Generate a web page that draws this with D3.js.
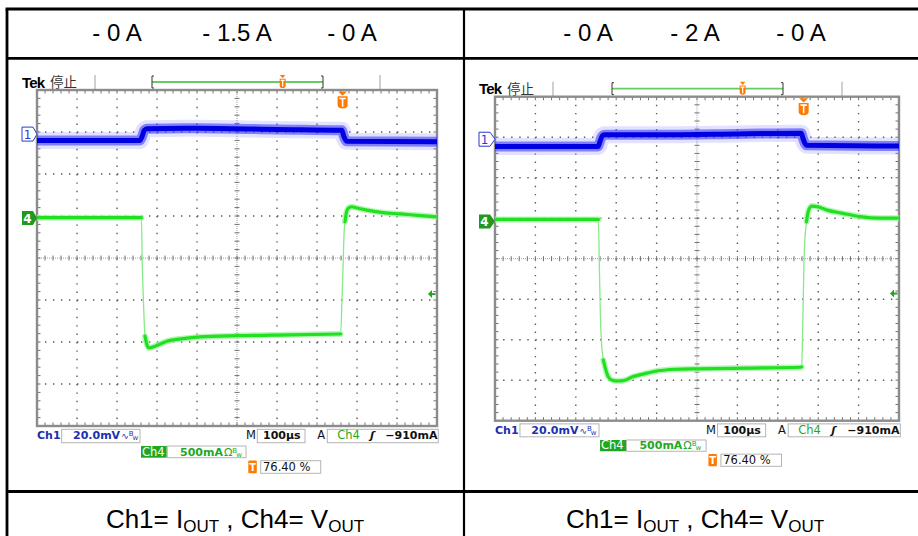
<!DOCTYPE html>
<html><head><meta charset="utf-8">
<script src="https://cdn.jsdelivr.net/npm/d3@7"></script>
<style>html,body{margin:0;padding:0;background:#fff;}svg{display:block}</style>
</head><body>
<svg id="c" width="918" height="536"></svg>
<script>
// ================= DATA =================
const headerLeft  = ["- 0 A", "- 1.5 A", "- 0 A"];
const headerRight = ["- 0 A", "- 2 A", "- 0 A"];
const footerParts = ["Ch1= I", "OUT", " , Ch4= V", "OUT"];
const timeDomain = [0, 1000];          // µs (100 µs/div, 10 div)
const divDomain  = [-4, 4];            // vertical divisions
const timeTicks  = d3.range(0, 1001, 100);
const divTicks   = d3.range(-4, 5, 1);

// Ch1 trace (divisions) — left capture (0 → 1.5 A → 0)
const ch1Left = [[0,2.80],[257,2.80],[263,2.90],[268,3.04],[275,3.08],[400,3.09],[600,3.06],[762,3.04],[767,2.90],[774,2.78],[1000,2.77]];
// Ch4 trace (divisions) — left capture
const ch4Left = [[0,0.96],[261,0.96],[263,-0.05],[266,-1.0],[270,-1.86],[275,-2.07],[280,-2.14],[295,-2.10],[325,-1.98],[365,-1.92],[408,-1.88],[503,-1.85],[633,-1.83],[759,-1.81],
  [762.5,-1.0],[766,0.07],[767.5,0.55],[770,0.86],[774,1.10],[780,1.20],[787.5,1.22],[800,1.19],[825,1.14],[865,1.08],[908,1.05],[958,1.01],[1000,0.98]];
// Ch1 trace — right capture (0 → 2 A → 0)
const ch1Right = [[0,2.77],[255,2.77],[260,2.90],[266,3.04],[272,3.06],[400,3.06],[600,3.08],[758,3.10],[763,2.95],[771,2.80],[1000,2.78]];
// Ch4 trace — right capture
const ch4Right = [[0,0.97],[256,0.97],[258,-0.03],[262,-1.76],[268,-2.50],[280,-2.91],[290,-3.0],[304,-3.02],[322,-3.0],[342,-2.91],[366,-2.85],[391,-2.79],[450,-2.73],[502,-2.72],[631,-2.70],[757,-2.68],
  [759,-2.67],[762,-1.51],[765,-0.03],[767,0.46],[771,0.91],[775,1.15],[784,1.30],[800,1.28],[822,1.20],[861,1.12],[903,1.04],[953,1.00],[1000,1.00]];

const ch1MarkerDiv = [2.95, 2.95];
const ch4MarkerDiv = [0.95, 0.92];
const trigLevelDiv = [-0.86, -0.86];
const trigTime = 764;                  // µs (76.40 %)
const trigPosText = "76.40 %";
const ch1ScaleText = "20.0mV";
const ch4ScaleText = "500mA";
const timeBaseText = "100µs";
const trigSourceText = "Ch4";
const trigLevelText = "−910mA";

// ================= DRAW =================
const svg = d3.select("#c");
svg.append("rect").attr("width",918).attr("height",536).attr("fill","#fff");

const BLUE = "#1c2fb0", GREEN = "#1fa81f", ORANGE = "#ff7a00";

function drawScope(cfg, ch1, ch4, idx, header) {
  const {L,R,T,B} = cfg;
  const g = svg.append("g");
  const x = d3.scaleLinear().domain(timeDomain).range([L,R]);
  const y = d3.scaleLinear().domain(divDomain).range([B,T]);
  const dx = (R-L)/10, dy = (B-T)/8;
  const kx = (R-L)/400, ky = (B-T)/336;

  // --- top status bar ---
  const top = g.append("g");
  top.append("text").attr("x",cfg.tekX).attr("y",T-2.5).attr("font-family","Liberation Sans, Arial").attr("font-weight","bold").attr("font-size",15).attr("letter-spacing",-0.8).text("Tek");
  top.append("text").attr("x",cfg.tekX+28).attr("y",T-3).attr("font-family","Noto Sans CJK SC").attr("font-size",13.5).attr("fill","#333").text("停止");
  [cfg.barL, cfg.barR].forEach(bx => top.append("line").attr("x1",bx).attr("x2",bx).attr("y1",T-15).attr("y2",T).attr("stroke","#b0b0b0").attr("stroke-width",1.2));
  // record bracket
  const by = T-8;
  top.append("line").attr("x1",cfg.brL).attr("x2",cfg.brR).attr("y1",by).attr("y2",by).attr("stroke","#66cc66").attr("stroke-width",1.8);
  [[cfg.brL,1],[cfg.brR,-1]].forEach(([bx,s]) => {
    top.append("path").attr("d",`M${bx+2*s},${T-14}H${bx}V${T-2}H${bx+2*s}`).attr("fill","none").attr("stroke","#333").attr("stroke-width",1);
  });
  const bxT = cfg.brL + (cfg.brR-cfg.brL)*(trigTime/1000);
  tIcon(top, bxT, T-15, 6, 13);

  // --- graticule ---
  const grid = g.append("g");
  timeTicks.forEach(t => {
    if (t===0 || t===1000 || t===500) return;
    grid.append("line").attr("x1",x(t)).attr("x2",x(t)).attr("y1",T).attr("y2",B)
      .attr("stroke","#5a5a5a").attr("stroke-width",1.4).attr("stroke-dasharray",`1.4 ${dy/5-1.4}`);
  });
  divTicks.forEach(v => {
    if (v===-4 || v===4 || v===0) return;
    grid.append("line").attr("x1",L).attr("x2",R).attr("y1",y(v)).attr("y2",y(v))
      .attr("stroke","#5a5a5a").attr("stroke-width",1.4).attr("stroke-dasharray",`1.4 ${dx/5-1.4}`);
  });
  // center lines
  grid.append("line").attr("x1",x(500)).attr("x2",x(500)).attr("y1",T).attr("y2",B).attr("stroke","#a0a0a0").attr("stroke-width",1).attr("stroke-dasharray","1 1");
  grid.append("line").attr("x1",L).attr("x2",R).attr("y1",y(0)).attr("y2",y(0)).attr("stroke","#a0a0a0").attr("stroke-width",1).attr("stroke-dasharray","1 1");
  d3.range(0,1000.1,20).forEach(t => {
    grid.append("line").attr("x1",x(t)).attr("x2",x(t)).attr("y1",y(0)-2.5).attr("y2",y(0)+2.5).attr("stroke","#707070").attr("stroke-width",1);
    grid.append("line").attr("x1",x(t)).attr("x2",x(t)).attr("y1",T).attr("y2",T+3.5).attr("stroke","#707070").attr("stroke-width",1);
    grid.append("line").attr("x1",x(t)).attr("x2",x(t)).attr("y1",B-3.5).attr("y2",B).attr("stroke","#707070").attr("stroke-width",1);
  });
  d3.range(-4,4.01,0.2).forEach(v => {
    grid.append("line").attr("x1",x(500)-2.5).attr("x2",x(500)+2.5).attr("y1",y(v)).attr("y2",y(v)).attr("stroke","#707070").attr("stroke-width",1);
    grid.append("line").attr("x1",L).attr("x2",L+3.5).attr("y1",y(v)).attr("y2",y(v)).attr("stroke","#707070").attr("stroke-width",1);
    grid.append("line").attr("x1",R-3.5).attr("x2",R).attr("y1",y(v)).attr("y2",y(v)).attr("stroke","#707070").attr("stroke-width",1);
  });
  grid.append("rect").attr("x",L).attr("y",T).attr("width",R-L).attr("height",B-T).attr("fill","none").attr("stroke","#8c8c8c").attr("stroke-width",2.4);

  // --- traces ---
  const clipId = "clip"+idx;
  svg.append("clipPath").attr("id",clipId).append("rect").attr("x",L).attr("y",T).attr("width",R-L).attr("height",B-T);
  const tr = g.append("g").attr("clip-path",`url(#${clipId})`);
  const line = d3.line().x(d=>x(d[0])).y(d=>y(d[1])).curve(d3.curveMonotoneX);
  // Ch1 (noisy band)
  tr.append("path").attr("d",line(ch1)).attr("fill","none").attr("stroke","#8c8cff").attr("stroke-opacity",0.25).attr("stroke-width",17);
  tr.append("path").attr("d",line(ch1)).attr("fill","none").attr("stroke","#3030ff").attr("stroke-opacity",0.55).attr("stroke-width",10);
  tr.append("path").attr("d",line(ch1)).attr("fill","none").attr("stroke","#0000e0").attr("stroke-width",5);
  // Ch4 — thin fast edges, thick flat portions
  tr.append("path").attr("d",line(ch4)).attr("fill","none").attr("stroke","#86ea86").attr("stroke-width",1.3);
  const runs = []; let cur = [];
  for (let i=0;i<ch4.length-1;i++){
    const a=ch4[i], b=ch4[i+1];
    const slope = Math.abs((b[1]-a[1])/(b[0]-a[0]));
    if (slope < 0.1) { if (!cur.length) cur.push(a); cur.push(b); }
    else { if (cur.length) runs.push(cur); cur=[]; }
  }
  if (cur.length) runs.push(cur);
  runs.forEach(r => {
    tr.append("path").attr("d",line(r)).attr("fill","none").attr("stroke","#a6f2a6").attr("stroke-opacity",0.8).attr("stroke-width",6).attr("stroke-linecap","round");
    tr.append("path").attr("d",line(r)).attr("fill","none").attr("stroke","#20e020").attr("stroke-width",3.2).attr("stroke-linecap","round");
  });

  // --- trigger position marker ---
  tIcon(g, x(trigTime), T+1.5, 10, 17);

  // --- channel markers ---
  const mx = cfg.markerX;
  const m1 = y(ch1MarkerDiv[idx]);
  g.append("path").attr("d",`M${mx},${m1-7}H${mx+11}L${L},${m1}L${mx+11},${m1+7}H${mx}Z`).attr("fill","#fff").attr("stroke","#2a3ad0").attr("stroke-width",1);
  g.append("text").attr("x",mx+5.5).attr("y",m1+4.5).attr("text-anchor","middle").attr("font-family","DejaVu Sans").attr("font-size",12).attr("fill","#2a3ad0").text("1");
  const m4 = y(ch4MarkerDiv[idx]);
  g.append("path").attr("d",`M${mx},${m4-7}H${mx+11}L${L},${m4}L${mx+11},${m4+7}H${mx}Z`).attr("fill","#1e9a1e");
  g.append("text").attr("x",mx+5.5).attr("y",m4+4.5).attr("text-anchor","middle").attr("font-family","DejaVu Sans").attr("font-weight","bold").attr("font-size",12).attr("fill","#fff").text("4");
  // trigger level arrow
  const ty = y(trigLevelDiv[idx]);
  g.append("path").attr("d",`M${R-9},${ty}L${R-5},${ty-4}V${ty+4}Z`).attr("fill",GREEN);
  g.append("line").attr("x1",R-7).attr("x2",R-1.5).attr("y1",ty).attr("y2",ty).attr("stroke",GREEN).attr("stroke-width",2);

  // --- readouts ---
  const rd = g.append("g").attr("font-family","DejaVu Sans").attr("font-weight","bold").attr("font-size",11);
  const X = v => L + v*kx, Y = v => B + v*ky;
  const box = (x1,x2,y1,y2) => rd.append("rect").attr("x",X(x1)).attr("y",Y(y1)).attr("width",X(x2)-X(x1)).attr("height",Y(y2)-Y(y1)).attr("fill","#fff").attr("stroke","#b4b4b4").attr("stroke-width",1);
  // row 1
  rd.append("text").attr("x",X(0)).attr("y",Y(13.3)).attr("fill",BLUE).text("Ch1");
  box(24.7,103,3.3,16.7);
  const t1 = rd.append("text").attr("x",X(36)).attr("y",Y(13.3)).attr("fill",BLUE).text(ch1ScaleText);
  t1.append("tspan").attr("font-weight","normal").attr("font-size",9).attr("dx",1).text("∿");
  t1.append("tspan").attr("font-weight","normal").attr("font-size",7).attr("dy",-3).text("B");
  t1.append("tspan").attr("font-weight","normal").attr("font-size",7).attr("dy",4).attr("dx",-1).text("w");
  rd.append("text").attr("x",X(209)).attr("y",Y(13.3)).attr("fill","#111").attr("font-weight","normal").attr("font-size",11.5).text("M");
  box(220.3,268,3.3,16.7);
  rd.append("text").attr("x",X(226)).attr("y",Y(13.3)).attr("fill","#111").text(timeBaseText);
  rd.append("text").attr("x",X(280.3)).attr("y",Y(13.3)).attr("fill","#111").attr("font-weight","normal").attr("font-size",11.5).text("A");
  box(290.3,401.3,3.3,16.7);
  rd.append("text").attr("x",X(300.3)).attr("y",Y(13.3)).attr("fill",GREEN).attr("font-weight","normal").attr("font-size",11.5).text(trigSourceText);
  rd.append("text").attr("x",X(333)).attr("y",Y(13.3)).attr("fill","#111").attr("font-style","italic").text("ʃ");
  rd.append("text").attr("x",X(400.5)).attr("y",Y(13.3)).attr("text-anchor","end").attr("fill","#111").text(trigLevelText);
  // row 2
  rd.append("rect").attr("x",X(104)).attr("y",Y(20)).attr("width",X(129.7)-X(104)).attr("height",Y(31.7)-Y(20)).attr("fill","#1fa81f");
  rd.append("text").attr("x",X(105)).attr("y",Y(29.8)).attr("fill","#fff").attr("font-weight","normal").attr("font-size",11.5).text("Ch4");
  box(130.3,209,20,31.7);
  const t4 = rd.append("text").attr("x",X(143)).attr("y",Y(29.8)).attr("fill",GREEN).text(ch4ScaleText);
  t4.append("tspan").attr("font-weight","normal").attr("font-size",11).attr("dx",1).text("Ω");
  t4.append("tspan").attr("font-weight","normal").attr("font-size",7).attr("dy",-3).text("B");
  t4.append("tspan").attr("font-weight","normal").attr("font-size",7).attr("dy",4).attr("dx",-1).text("w");
  // row 3
  rd.append("rect").attr("x",X(211.3)).attr("y",Y(34.5)).attr("width",8.5).attr("height",Y(47.3)-Y(34.5)).attr("fill",ORANGE).attr("rx",1);
  rd.append("text").attr("x",X(211.3)+4.25).attr("y",Y(45)).attr("text-anchor","middle").attr("fill","#fff").attr("font-size",10).text("T");
  box(223.7,283.7,34.7,47.3);
  rd.append("text").attr("x",X(226)).attr("y",Y(45.2)).attr("fill","#111").attr("font-weight","normal").attr("font-size",11.5).text(trigPosText);

  // --- header cell text ---
  const hx = cfg.headerX;
  header.forEach((h,i) => svg.append("text").attr("x",hx[i]).attr("y",41).attr("text-anchor","middle")
    .attr("font-family","Liberation Sans, Arial").attr("font-size",24).attr("fill","#000").text(h));
  // --- footer cell text ---
  const ft = svg.append("text").attr("x",cfg.footerX).attr("y",528).attr("text-anchor","middle")
    .attr("font-family","Liberation Sans, Arial").attr("font-size",26).attr("fill","#000");
  ft.append("tspan").text(footerParts[0]);
  ft.append("tspan").attr("font-size",17).attr("dy",4).text(footerParts[1]);
  ft.append("tspan").attr("dy",-4).text(footerParts[2]);
  ft.append("tspan").attr("font-size",17).attr("dy",4).text(footerParts[3]);
}

function tIcon(g, cx, top, w, h) {
  const tri = h*0.25;
  g.append("path").attr("d",`M${cx-w*0.45},${top}H${cx+w*0.45}L${cx},${top+tri}Z`).attr("fill",ORANGE);
  const bt = top+tri+0.5, bh = h-tri-0.5;
  g.append("path").attr("d",`M${cx-w/2},${bt}H${cx+w/2}V${bt+bh*0.72}Q${cx+w/2},${bt+bh} ${cx},${bt+bh}Q${cx-w/2},${bt+bh} ${cx-w/2},${bt+bh*0.72}Z`).attr("fill",ORANGE);
  g.append("path").attr("d",`M${cx-w*0.32},${bt+bh*0.18}H${cx+w*0.32}M${cx},${bt+bh*0.18}V${bt+bh*0.85}`).attr("stroke","#fff").attr("stroke-width",Math.max(1.2,w*0.16)).attr("fill","none");
}

const leftCfg  = {L:37, R:437, T:90, B:426, tekX:22, barL:95, barR:380, brL:152, brR:323, markerX:22, headerX:[117,237,352], footerX:235};
const rightCfg = {L:495, R:899, T:96.7, B:420.7, tekX:479, barL:553, barR:842, brL:612, brR:783, markerX:479, headerX:[588,695,801], footerX:695};

drawScope(leftCfg, ch1Left, ch4Left, 0, headerLeft);
drawScope(rightCfg, ch1Right, ch4Right, 1, headerRight);

// ---- table borders ----
const tb = svg.append("g").attr("stroke","#000").attr("stroke-width",2.8);
tb.append("line").attr("x1",5.6).attr("x2",918).attr("y1",9).attr("y2",9);
tb.append("line").attr("x1",7).attr("x2",918).attr("y1",58.3).attr("y2",58.3);
tb.append("line").attr("x1",7).attr("x2",918).attr("y1",491.5).attr("y2",491.5);
tb.append("line").attr("x1",7).attr("x2",7).attr("y1",9).attr("y2",536);
tb.append("line").attr("x1",464).attr("x2",464).attr("y1",9).attr("y2",536).attr("stroke-width",2.2);
</script>
</body></html>
